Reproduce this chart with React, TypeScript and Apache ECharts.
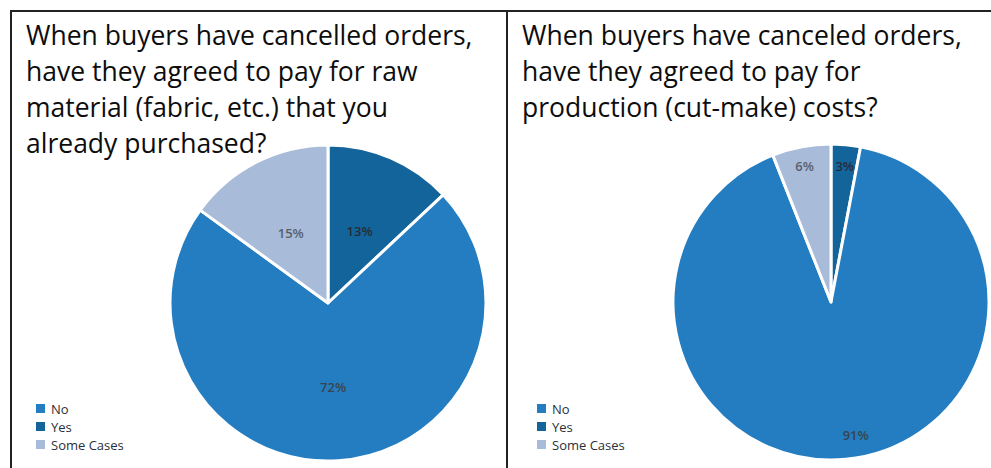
import React, { useEffect, useRef } from "react";
import * as echarts from "echarts";

const categories = ["Yes", "No", "Some Cases"];
const legendOrder = ["No", "Yes", "Some Cases"];
const rawMaterialValues = [13, 72, 15];
const productionValues = [3, 91, 6];
const titleLeft = "When buyers have cancelled orders,\nhave they agreed to pay for raw\nmaterial (fabric, etc.) that you\nalready purchased?";
const titleRight = "When buyers have canceled orders,\nhave they agreed to pay for\nproduction (cut-make) costs?";

const sliceColors: Record<string, string> = {
  Yes: "#14649c",
  No: "#237dc0",
  "Some Cases": "#a8bbd9",
};
const labelColors: Record<string, string> = {
  Yes: "#262c36",
  No: "#3a4450",
  "Some Cases": "#5a606a",
};

// label nudges per series (style only)
const labelNudgesLeft = [
  [-1, 3],
  [0, 2],
  [0, 3],
];
const labelNudgesRight = [
  [6, -54],
  [17, 51],
  [-11, -55],
];

export default function App() {
  const ref = useRef<HTMLDivElement>(null);
  useEffect(() => {
    if (!ref.current) return;
    const chart = echarts.init(ref.current, null, { renderer: "svg" });
    const font = "'Open Sans', 'Noto Sans', sans-serif";
    const mk = (vals: number[]) =>
      categories.map((c, i) => ({
        name: c,
        value: vals[i],
        itemStyle: { color: sliceColors[c] },
        label: { color: labelColors[c] },
      }));
    const pieBase = {
      type: "pie" as const,
      radius: 158,
      startAngle: 90,
      clockwise: true,
      avoidLabelOverlap: false,
      itemStyle: { borderColor: "#ffffff", borderWidth: 3 },
      label: {
        show: true,
        position: "inside" as const,
        formatter: "{c}%",
        fontSize: 13,
        fontWeight: 600,
        fontFamily: font,
      },
      labelLine: { show: false },
      emphasis: { disabled: true },
    };
    const nudge = (arr: number[][]) => (params: any) => {
      const n = arr[params.dataIndex] || [0, 0];
      return { dx: n[0], dy: n[1] };
    };
    const legendBase = {
      data: legendOrder,
      orient: "vertical" as const,
      top: 402,
      padding: 0,
      itemWidth: 11,
      itemHeight: 11,
      itemGap: 5,
      icon: "rect",
      textStyle: { fontFamily: font, fontSize: 13, fontWeight: 500, color: "#2a2f3a" },
      selectedMode: false,
    };
    const titleStyle = { fontFamily: font, fontSize: 26.5, fontWeight: "normal" as const, color: "#0d0d0d", lineHeight: 36 };
    chart.setOption({
      animation: false,
      backgroundColor: "#ffffff",
      title: [
        { text: titleLeft, left: 26, top: 17, padding: 0, textStyle: titleStyle },
        { text: titleRight, left: 522, top: 17, padding: 0, textStyle: titleStyle },
      ],
      legend: [
        { ...legendBase, left: 34 },
        { ...legendBase, left: 535 },
      ],
      series: [
        { ...pieBase, name: "Raw material", center: [328, 303], data: mk(rawMaterialValues), labelLayout: nudge(labelNudgesLeft) },
        { ...pieBase, name: "Production", center: [831, 302], data: mk(productionValues), labelLayout: nudge(labelNudgesRight) },
      ],
      graphic: [
        { type: "line", shape: { x1: 10, y1: 11, x2: 991, y2: 11 }, style: { stroke: "#222222", lineWidth: 2 } },
        { type: "line", shape: { x1: 11, y1: 10, x2: 11, y2: 468 }, style: { stroke: "#222222", lineWidth: 2 } },
        { type: "line", shape: { x1: 507, y1: 10, x2: 507, y2: 468 }, style: { stroke: "#222222", lineWidth: 2 } },
      ],
    });
    return () => chart.dispose();
  }, []);
  return (
    <div
      ref={ref}
      style={{ position: "fixed", left: 0, top: 0, width: 991, height: 468 }}
    />
  );
}
